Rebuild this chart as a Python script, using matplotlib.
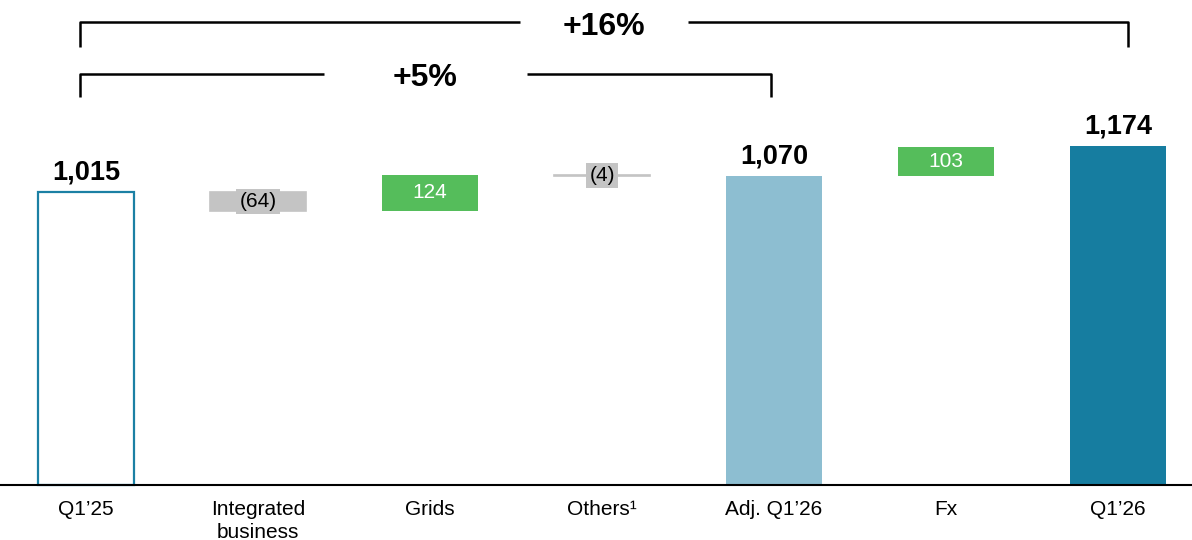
import matplotlib.pyplot as plt

plt.rcParams['font.family'] = ['Liberation Sans', 'DejaVu Sans']

# waterfall data (EUR m)
categories = ["Q1\u201925", "Integrated\nbusiness", "Grids", "Others\u00b9",
              "Adj. Q1\u201926", "Fx", "Q1\u201926"]
values = [1015, -64, 124, -4, 1070, 103, 1174]
labels = ["1,015", "(64)", "124", "(4)", "1,070", "103", "1,174"]
kinds = ["start", "neg", "pos", "neg", "sub", "pos", "total"]

growth_spans = [(0, 6, "+16%"), (0, 4, "+5%")]

col_gray = "#c4c4c4"
col_green = "#55bd5b"
col_light = "#8dbed1"
col_dark = "#167da0"
col_edge = "#1b80a4"

fig = plt.figure(figsize=(11.92, 5.40), dpi=100)
ax = fig.add_axes([0, 0, 1, 1])
ax.set_xlim(-0.5, 6.43)
ax.set_ylim(-190.5, 1681)
ax.axis("off")

w = 0.56
running = 0
for i, (v, lab, k) in enumerate(zip(values, labels, kinds)):
    if k == "start":
        ax.bar(i, v, w, facecolor="white", edgecolor=col_edge, linewidth=1.6, zorder=2)
        running = v
        ax.annotate(lab, (i, v), xytext=(0, 5), textcoords="offset points",
                    ha="center", va="bottom", fontsize=19.5, fontweight="bold")
    elif k in ("sub", "total"):
        c = col_light if k == "sub" else col_dark
        ax.bar(i, v, w, color=c, zorder=2)
        running = v
        ax.annotate(lab, (i, v), xytext=(0, 5), textcoords="offset points",
                    ha="center", va="bottom", fontsize=19.5, fontweight="bold")
    else:
        bottom = running
        running = running + v
        if k == "pos":
            ax.bar(i, v, w, bottom=bottom, color=col_green, zorder=2)
            ax.text(i, bottom + v / 2, lab, ha="center", va="center",
                    fontsize=15, color="white", zorder=3)
        else:
            ax.bar(i, v, w, bottom=bottom, color=col_gray, zorder=2,
                   linewidth=1.2, edgecolor=col_gray)
            ax.text(i, bottom + v / 2, lab, ha="center", va="center",
                    fontsize=15, color="black", zorder=3,
                    bbox=dict(boxstyle="square,pad=0.15", facecolor=col_gray,
                              edgecolor="none"))

# baseline
ax.axhline(0, color="black", linewidth=1.5, zorder=3)

# category labels
for i, c in enumerate(categories):
    ax.text(i, -52, c, ha="center", va="top", fontsize=15, linespacing=1.25)

# growth brackets
bracket_y = [(1605, 1519), (1425, 1345)]
gaps = [0.49, 0.59]
right_off = [0.06, -0.02]
for (a, b, txt), (yh, yl), g, ro in zip(growth_spans, bracket_y, gaps, right_off):
    xl = a - 0.035
    xr = b + ro
    xm = (xl + xr) / 2
    ax.plot([xl, xl, xm - g], [yl, yh, yh], color="black", lw=1.8,
            solid_joinstyle="round", solid_capstyle="butt")
    ax.plot([xm + g, xr, xr], [yh, yh, yl], color="black", lw=1.8,
            solid_joinstyle="round", solid_capstyle="butt")
    ax.text(xm, yh - 16, txt, ha="center", va="center", fontsize=23,
            fontweight="bold")

fig.savefig("out.png", dpi=100)
